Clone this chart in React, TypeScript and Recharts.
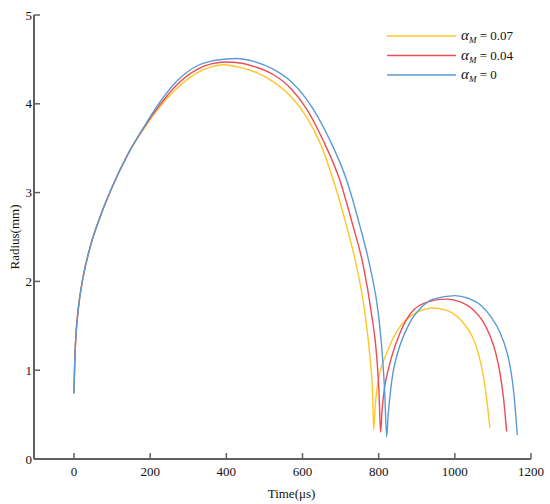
import { LineChart, Line, XAxis, YAxis, Legend } from "recharts"

// bubble radius vs time
const yellowT = [0, 2, 5, 11, 24, 42, 68, 100, 140, 185, 226, 269, 320, 360, 392, 436, 480, 523, 570, 611, 646, 681, 716, 742, 764, 777, 784, 787, 791, 796, 803, 821, 838, 856, 873, 905, 943, 975, 1005, 1030, 1048, 1063, 1075, 1084, 1092]
const yellowR = [0.74, 1.1, 1.38, 1.68, 2.05, 2.38, 2.72, 3.06, 3.42, 3.73, 3.97, 4.17, 4.34, 4.415, 4.44, 4.41, 4.35, 4.25, 4.08, 3.85, 3.56, 3.14, 2.62, 2.17, 1.64, 1.15, 0.74, 0.33, 0.6, 0.8, 0.97, 1.19, 1.36, 1.49, 1.57, 1.66, 1.7, 1.68, 1.61, 1.49, 1.36, 1.17, 0.93, 0.66, 0.35]

const redT = [0, 2, 5, 11, 24, 42, 68, 100, 140, 185, 226, 269, 320, 360, 401, 436, 480, 523, 570, 611, 654, 698, 733, 760, 781, 795, 801, 805, 809, 816, 825, 834, 856, 873, 917, 978, 1015, 1048, 1072, 1092, 1107, 1118, 1128, 1136]
const redR = [0.74, 1.1, 1.38, 1.68, 2.05, 2.38, 2.72, 3.06, 3.42, 3.74, 3.99, 4.21, 4.38, 4.45, 4.47, 4.46, 4.41, 4.33, 4.17, 3.94, 3.59, 3.14, 2.62, 2.17, 1.64, 1.15, 0.74, 0.3, 0.55, 0.82, 1.0, 1.15, 1.42, 1.57, 1.75, 1.8, 1.77, 1.68, 1.56, 1.39, 1.2, 0.98, 0.68, 0.31]

const blueT = [0, 2, 5, 11, 24, 42, 68, 100, 140, 185, 226, 269, 320, 360, 400, 427, 470, 523, 570, 611, 672, 716, 751, 777, 799, 810, 816, 821, 825, 830, 838, 847, 856, 873, 891, 915, 943, 1000, 1035, 1066, 1095, 1118, 1135, 1145, 1155, 1164]
const blueR = [0.74, 1.1, 1.38, 1.68, 2.05, 2.38, 2.72, 3.06, 3.42, 3.75, 4.02, 4.25, 4.42, 4.48, 4.505, 4.51, 4.48, 4.39, 4.25, 4.05, 3.59, 3.14, 2.62, 2.17, 1.64, 1.15, 0.74, 0.25, 0.5, 0.72, 0.98, 1.15, 1.28, 1.46, 1.6, 1.72, 1.8, 1.84, 1.81, 1.74, 1.6, 1.43, 1.23, 1.05, 0.74, 0.27]

const xTicks = [0, 200, 400, 600, 800, 1000, 1200]
const yTicks = [0, 1, 2, 3, 4, 5]

const seriesNames = ["0.07", "0.04", "0"]
const seriesColors = ["#FFC629", "#EE4B55", "#5A9BD5"]

const zip = (t: number[], r: number[]) => t.map((v, i) => ({ t: v, r: r[i] }))

const series = [zip(yellowT, yellowR), zip(redT, redR), zip(blueT, blueR)]

const font = "'Liberation Serif', 'Times New Roman', serif"
const axisColor = "#606060"

function XTick(props: any) {
  const { x, y, payload } = props
  return (
    <g>
      <line x1={x} y1={y} x2={x} y2={y - 6} stroke={axisColor} strokeWidth={1.5} />
      <text x={x} y={y + 12} textAnchor="middle" dominantBaseline="central" fontFamily={font} fontSize={13} fill="#111">
        {payload.value}
      </text>
    </g>
  )
}

function YTick(props: any) {
  const { x, y, payload } = props
  return (
    <g>
      <line x1={x} y1={y} x2={x + 6} y2={y} stroke={axisColor} strokeWidth={1.5} />
      <text x={x - 2} y={y} textAnchor="end" dominantBaseline="central" fontFamily={font} fontSize={13} fill="#111">
        {payload.value}
      </text>
    </g>
  )
}

function XTitle(props: any) {
  const { viewBox } = props
  const cx = viewBox.x + viewBox.width / 2 + 9
  const cy = viewBox.y + 34
  return (
    <text x={cx} y={cy} textAnchor="middle" dominantBaseline="central" fontFamily={font} fontSize={13} fill="#111">
      Time(μs)
    </text>
  )
}

function YTitle(props: any) {
  const { viewBox } = props
  const cx = viewBox.x + 14
  const cy = viewBox.y + viewBox.height / 2
  return (
    <text
      x={cx}
      y={cy}
      transform={`rotate(-90 ${cx} ${cy})`}
      textAnchor="middle"
      dominantBaseline="central"
      fontFamily={font}
      fontSize={13}
      fill="#111"
    >
      Radius(mm)
    </text>
  )
}

function LegendBox() {
  return (
    <svg width={160} height={60}>
      {seriesNames.map((name, i) => {
        const y = 10 + i * 19.5
        return (
          <g key={name}>
            <line x1={1} y1={y} x2={70} y2={y} stroke={seriesColors[i]} strokeWidth={1.6} />
            <text x={75} y={y + 4} fontFamily={font} fontSize={15} fill="#111">
              <tspan fontStyle="italic">α</tspan>
              <tspan fontStyle="italic" fontSize={9} dy={3}>M</tspan>
              <tspan dy={-3} fontSize={13}>{" = " + name}</tspan>
            </text>
          </g>
        )
      })}
    </svg>
  )
}

export default function App() {
  return (
    <div style={{ position: "absolute", left: 0, top: 0, width: 550, height: 504, background: "#fff" }}>
      <LineChart width={550} height={504} margin={{ top: 15, right: 19, bottom: 0, left: 0 }}>
        <XAxis
          dataKey="t"
          type="number"
          domain={[-105, 1200]}
          ticks={xTicks}
          allowDataOverflow
          height={45}
          tickSize={0}
          tickMargin={0}
          tick={<XTick />}
          axisLine={{ stroke: axisColor, strokeWidth: 2 }}
          label={<XTitle />}
        />
        <YAxis
          type="number"
          domain={[0, 5]}
          ticks={yTicks}
          width={34}
          tickSize={0}
          tickMargin={0}
          tick={<YTick />}
          axisLine={{ stroke: axisColor, strokeWidth: 2 }}
          label={<YTitle />}
        />
        <Legend
          layout="vertical"
          align="center"
          verticalAlign="middle"
          content={<LegendBox />}
          wrapperStyle={{ position: "absolute", left: 386, top: 26, width: 160, height: 60 }}
        />
        {series.map((d, i) => (
          <Line
            key={seriesNames[i]}
            data={d}
            dataKey="r"
            type="monotone"
            stroke={seriesColors[i]}
            strokeWidth={1.4}
            dot={false}
            isAnimationActive={false}
          />
        ))}
      </LineChart>
    </div>
  )
}
